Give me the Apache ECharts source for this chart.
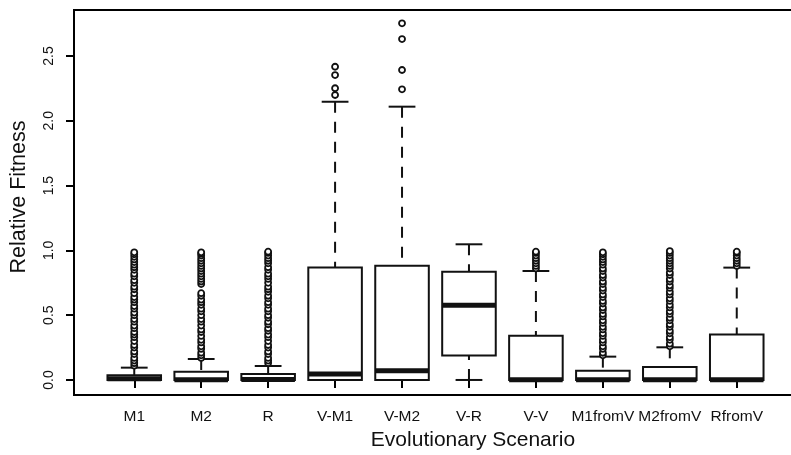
<!DOCTYPE html>
<html><head><meta charset="utf-8">
<script src="https://cdn.jsdelivr.net/npm/echarts@6/dist/echarts.min.js"></script>
<style>html,body{margin:0;padding:0;background:#fff}#c{width:791px;height:455px}</style>
</head><body><div id="c"></div>
<script>
const categories = ['M1','M2','R','V-M1','V-M2','V-R','V-V','M1fromV','M2fromV','RfromV'];
const lowerWhisker = [0, 0, 0, 0, 0, 0, 0, 0, 0, 0];
const q1Values     = [0, 0, 0, 0, 0, 0.188, 0, 0, 0, 0];
const medianValues = [0.01, 0.002, 0.004, 0.046, 0.072, 0.576, 0.002, 0.002, 0.002, 0.002];
const q3Values     = [0.036, 0.064, 0.047, 0.867, 0.882, 0.836, 0.342, 0.072, 0.1, 0.35];
const upperWhisker = [0.095, 0.162, 0.108, 2.147, 2.109, 1.047, 0.841, 0.18, 0.252, 0.867];

const outM1 = [0.11,0.13,0.15,0.17,0.2,0.22,0.25,0.27,0.3,0.33,0.35,0.37,0.4,0.42,0.45,0.47,0.5,0.52,0.55,0.57,0.6,0.62,0.64,0.67,0.7,0.72,0.75,0.77,0.8,0.82,0.85,0.87,0.89,0.91,0.93,0.95,0.97,0.985];
const outM2 = [0.17,0.19,0.21,0.24,0.26,0.29,0.31,0.34,0.37,0.39,0.42,0.45,0.47,0.5,0.53,0.55,0.58,0.6,0.62,0.65,0.67,0.74,0.76,0.78,0.8,0.82,0.84,0.86,0.88,0.9,0.92,0.94,0.96,0.975,0.985];
const outR = [0.13,0.15,0.17,0.2,0.22,0.25,0.27,0.3,0.33,0.35,0.38,0.4,0.43,0.45,0.48,0.5,0.53,0.55,0.58,0.6,0.63,0.65,0.68,0.7,0.72,0.75,0.78,0.8,0.82,0.85,0.87,0.9,0.92,0.94,0.96,0.98,0.99];
const outVM1 = [2.199, 2.251, 2.353, 2.417];
const outVM2 = [2.243, 2.392, 2.631, 2.752];
const outVR = [];
const outVV = [0.86,0.88,0.9,0.92,0.94,0.96,0.98,0.99];
const outM1fromV = [0.19,0.21,0.24,0.26,0.29,0.31,0.34,0.36,0.39,0.41,0.44,0.46,0.49,0.51,0.54,0.56,0.59,0.61,0.64,0.66,0.69,0.71,0.74,0.76,0.79,0.81,0.84,0.86,0.89,0.91,0.93,0.95,0.97,0.985];
const outM2fromV = [0.26,0.28,0.31,0.33,0.36,0.38,0.41,0.43,0.46,0.48,0.51,0.53,0.56,0.58,0.61,0.63,0.66,0.68,0.71,0.73,0.76,0.78,0.81,0.83,0.86,0.88,0.9,0.92,0.94,0.96,0.98,0.995];
const outRfromV = [0.88,0.9,0.92,0.94,0.96,0.98,0.99];
const outliers = [outM1, outM2, outR, outVM1, outVM2, outVR, outVV, outM1fromV, outM2fromV, outRfromV];

const yTicks = [0, 0.5, 1.0, 1.5, 2.0, 2.5];
const xPositions = categories.map((c, i) => i + 1);

const boxData = categories.map((c, i) => [i + 1, lowerWhisker[i], q1Values[i], medianValues[i], q3Values[i], upperWhisker[i]]);
const outlierData = [];
outliers.forEach((arr, i) => arr.forEach(v => outlierData.push([i + 1, v])));

const FONT = 'Liberation Sans, Arial, Helvetica, sans-serif';
const INK = '#111';

function renderBox(params, api) {
  const x = api.value(0);
  const lo = api.value(1), q1 = api.value(2), md = api.value(3), q3 = api.value(4), hi = api.value(5);
  const pLo = api.coord([x, lo]), pQ1 = api.coord([x, q1]), pMd = api.coord([x, md]);
  const pQ3 = api.coord([x, q3]), pHi = api.coord([x, hi]);
  const half = api.size([0.8, 0])[0] / 2;
  const staple = half / 2;
  const cx = pMd[0];
  const lineStyle = { stroke: INK, lineWidth: 2, fill: null };
  const dashStyle = { stroke: INK, lineWidth: 2, lineDash: [11, 9], fill: null };
  return {
    type: 'group',
    children: [
      { type: 'line', shape: { x1: cx, y1: pHi[1], x2: cx, y2: pQ3[1] }, style: dashStyle },
      { type: 'line', shape: { x1: cx, y1: pLo[1], x2: cx, y2: pQ1[1] }, style: dashStyle },
      { type: 'line', shape: { x1: cx - staple, y1: pHi[1], x2: cx + staple, y2: pHi[1] }, style: lineStyle },
      { type: 'line', shape: { x1: cx - staple, y1: pLo[1], x2: cx + staple, y2: pLo[1] }, style: lineStyle },
      { type: 'rect', shape: { x: cx - half, y: pQ3[1], width: half * 2, height: pQ1[1] - pQ3[1] },
        style: { fill: '#fff', stroke: INK, lineWidth: 2 } },
      { type: 'line', shape: { x1: cx - half, y1: pMd[1], x2: cx + half, y2: pMd[1] },
        style: { stroke: INK, lineWidth: 5, fill: null } }
    ]
  };
}

const chart = echarts.init(document.getElementById('c'), null, { renderer: 'canvas' });
chart.setOption({
  animation: false,
  backgroundColor: '#fff',
  grid: { left: 74, top: 10, right: -6, bottom: 60, show: true, borderColor: '#000', borderWidth: 2,
          backgroundColor: 'transparent', containLabel: false, outerBoundsMode: 'none' },
  xAxis: {
    type: 'value', min: 0.1, max: 10.9,
    splitLine: { show: false },
    axisLine: { show: false },
    axisTick: { show: true, inside: false, length: 8, customValues: xPositions, lineStyle: { color: '#000', width: 2 } },
    axisLabel: { customValues: xPositions, formatter: v => categories[Math.round(v) - 1], margin: 14,
                 fontSize: 15.5, color: INK, fontFamily: FONT },
    name: 'Evolutionary Scenario', nameLocation: 'middle', nameGap: 33,
    nameTextStyle: { fontSize: 21, color: INK, fontFamily: FONT, padding: [0, 0, 0, 75] }
  },
  yAxis: {
    type: 'value', min: -0.116, max: 2.855,
    splitLine: { show: false },
    axisLine: { show: false },
    axisTick: { show: true, inside: false, length: 8, customValues: yTicks, lineStyle: { color: '#000', width: 2 } },
    axisLabel: { customValues: yTicks, formatter: v => v.toFixed(1), rotate: 90, margin: 18,
                 fontSize: 14, color: INK, fontFamily: FONT },
    name: 'Relative Fitness', nameLocation: 'middle', nameRotate: 90, nameGap: 44,
    nameTextStyle: { fontSize: 21.5, color: INK, fontFamily: FONT, padding: [0, 0, 0, 11] }
  },
  series: [
    { type: 'custom', renderItem: renderBox, data: boxData, encode: { x: 0, y: [1, 2, 3, 4, 5] }, z: 2 },
    { type: 'scatter', data: outlierData, symbol: 'circle', symbolSize: 6, z: 3,
      itemStyle: { color: '#fff', borderColor: INK, borderWidth: 1.8, opacity: 1 } }
  ]
});
</script></body></html>
